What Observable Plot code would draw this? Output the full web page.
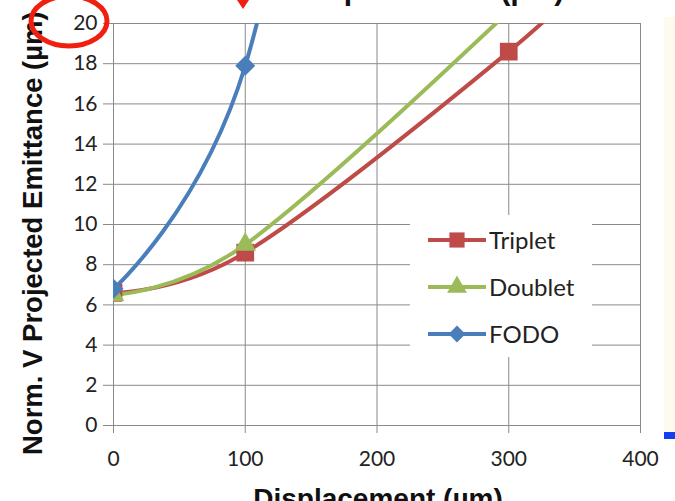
<!DOCTYPE html>
<html>
<head>
<meta charset="utf-8">
<script src="https://cdn.jsdelivr.net/npm/d3@7"></script>
<script src="https://cdn.jsdelivr.net/npm/@observablehq/plot@0.6"></script>
<style>
  html, body { margin: 0; padding: 0; background: white; overflow: hidden; }
  #chart { width: 675px; height: 501px; overflow: hidden; }
</style>
</head>
<body>
<div id="chart"></div>
<script>
// ---- data ----
const xTicks = [0, 100, 200, 300, 400];
const yTicks = [0, 2, 4, 6, 8, 10, 12, 14, 16, 18, 20];
const seriesNames = ["Triplet", "Doublet", "FODO"];
const seriesColors = ["#BE4B48", "#9BBB59", "#4A7EBB"];
const seriesSymbols = ["square", "triangle", "diamond2"];

const tripletX = [0, 100, 300, 400];
const tripletY = [6.6, 8.6, 18.6, 24.8];
const doubletX = [0, 100, 300, 400];
const doubletY = [6.5, 9.0, 20.6, 27.5];
const fodoX = [0, 100, 200];
const fodoY = [6.8, 17.9, 50];

const xLabel = "Displacement (µm)";
const yLabel = "Norm. V Projected Emittance (µm)";
const titleText = "Displacement (µm)";

const table = [];
[[tripletX, tripletY], [doubletX, doubletY], [fodoX, fodoY]].forEach(([xs, ys], i) => {
  xs.forEach((x, j) => table.push({series: seriesNames[i], x, y: ys[j]}));
});

const gridColor = "#8a8a8a";
const symbolR = {Triplet: 10, Doublet: 8, FODO: 9};

const marks = [
  Plot.gridX(xTicks, {stroke: gridColor, strokeOpacity: 1, strokeWidth: 1}),
  Plot.gridY(yTicks, {stroke: gridColor, strokeOpacity: 1, strokeWidth: 1}),
  Plot.ruleX([0], {stroke: gridColor, strokeWidth: 1}),
  Plot.ruleY([0], {stroke: gridColor, strokeWidth: 1}),
  Plot.axisX(xTicks, {tickSize: 8, tickPadding: 18, stroke: gridColor, fill: "#222", fontSize: 21, label: null}),
  Plot.axisY(yTicks, {tickSize: 10, tickPadding: 6, stroke: gridColor, fill: "#222", fontSize: 21, label: null}),
];
seriesNames.forEach((name, i) => {
  const d = table.filter(r => r.series === name);
  marks.push(Plot.line(d, {x: "x", y: "y", stroke: seriesColors[i], strokeWidth: 4, curve: "cardinal", clip: true}));
});
seriesNames.forEach((name, i) => {
  const d = table.filter(r => r.series === name);
  marks.push(Plot.dot(d, {x: "x", y: "y", fill: seriesColors[i], symbol: () => seriesSymbols[i], r: symbolR[name], clip: true}));
});

const chart = Plot.plot({
  width: 675, height: 501,
  marginLeft: 113, marginRight: 35, marginTop: 23, marginBottom: 76,
  style: {fontFamily: "Lato, 'Open Sans', sans-serif", fontSize: "21px", background: "white", color: "#222"},
  x: {domain: [0, 400], ticks: xTicks, label: null},
  y: {domain: [0, 20], ticks: yTicks, label: null},
  symbol: {type: "identity"},
  marks
});
document.getElementById("chart").appendChild(chart);

const svg = d3.select(chart);

// Legend (box covers grid)
const leg = svg.append("g").attr("text-anchor", "start");
leg.append("rect").attr("x", 410).attr("y", 215).attr("width", 182).attr("height", 142).attr("fill", "white");
const legY = [240, 287, 334];
seriesNames.forEach((name, i) => {
  const y = legY[i];
  leg.append("line").attr("x1", 428).attr("x2", 486).attr("y1", y).attr("y2", y)
    .attr("stroke", seriesColors[i]).attr("stroke-width", 4);
  const sym = {square: d3.symbolSquare, triangle: d3.symbolTriangle, diamond2: d3.symbolDiamond2}[seriesSymbols[i]];
  const size = [230, 170, 180][i];
  leg.append("path").attr("d", d3.symbol(sym, size)()).attr("transform", `translate(457,${y})`).attr("fill", seriesColors[i]);
  leg.append("text").attr("x", 489).attr("y", y).attr("dy", "0.36em").attr("font-size", 24)
    .attr("text-anchor", "start")
    .attr("font-family", "Lato, sans-serif").attr("fill", "#222").text(name);
});

// Axis titles
svg.append("text").attr("transform", "translate(42,455) rotate(-90)").attr("text-anchor", "start")
  .attr("font-family", "'Liberation Sans', Arial, sans-serif").attr("font-weight", "bold").attr("font-size", 27.5)
  .attr("fill", "#111").text(yLabel);
svg.append("text").attr("x", 378).attr("y", 508).attr("text-anchor", "middle")
  .attr("font-family", "'Liberation Sans', Arial, sans-serif").attr("font-weight", "bold").attr("font-size", 28)
  .attr("fill", "#111").text(xLabel);
// Cropped title at top
svg.append("text").attr("x", 297).attr("y", 0).attr("text-anchor", "start")
  .attr("font-family", "'Liberation Sans', Arial, sans-serif").attr("font-weight", "bold").attr("font-size", 30)
  .attr("fill", "#111").text(titleText);

// Annotations: red ellipse, red arrow tip, right cream panel
svg.append("ellipse").attr("cx", 69).attr("cy", 21).attr("rx", 38).attr("ry", 25)
  .attr("fill", "none").attr("stroke", "#F02010").attr("stroke-width", 5);
svg.append("path").attr("d", "M237,0 L249,0 L243,9 Z").attr("fill", "#F02010");
svg.append("rect").attr("x", 664).attr("y", 17).attr("width", 11).attr("height", 415).attr("fill", "#FFFAEE");
svg.append("rect").attr("x", 664).attr("y", 432).attr("width", 11).attr("height", 7).attr("fill", "#1040F0");
</script>
</body>
</html>
